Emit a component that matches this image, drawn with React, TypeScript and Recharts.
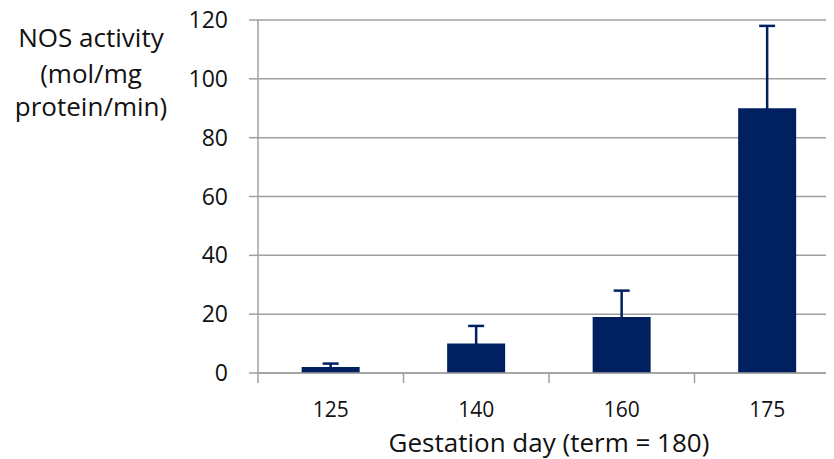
import React from "react";
import { BarChart, Bar, XAxis, YAxis, CartesianGrid, ErrorBar, Label } from "recharts";

const categories = ["125", "140", "160", "175"];
const values = [2, 10, 19, 90];
const errors = [1.2, 6, 9, 28];
const yTicks = [0, 20, 40, 60, 80, 100, 120];

const data = categories.map((c, i) => ({
  day: c,
  nos: values[i],
  err: [Math.min(1, values[i] / 2), errors[i]],
}));

const FONT = "'Open Sans', sans-serif";
const TEXT = "#111";
const AXIS = "#a0a0a0";
const NAVY = "#002060";

const XTick = (props: any) => {
  const { x, payload, index } = props;
  const bw = 145.5;
  const left = x - bw / 2;
  return (
    <g>
      <line x1={left} y1={373} x2={left} y2={383} stroke={AXIS} strokeWidth={1.5} />
      {index === categories.length - 1 ? (
        <line x1={x + bw / 2} y1={373} x2={x + bw / 2} y2={383} stroke={AXIS} strokeWidth={1.5} />
      ) : null}
      <text x={x} y={417} textAnchor="middle" fontFamily={FONT} fontSize={21} fill={TEXT}>
        {payload.value}
      </text>
    </g>
  );
};

export default function App() {
  return (
    <div style={{ marginLeft: -8, marginTop: -8, width: 834, height: 459, overflow: "hidden" }}>
      <BarChart
        width={840}
        height={459}
        data={data}
        margin={{ top: 20, right: 0, bottom: 0, left: 0 }}
        barCategoryGap="30%"
      >
        <CartesianGrid vertical={false} stroke={AXIS} strokeWidth={1.5} />
        <XAxis
          dataKey="day"
          height={86}
          axisLine={{ stroke: AXIS, strokeWidth: 1.5 }}
          tickLine={false}
          tick={<XTick />}
          interval={0}
        >
          <Label
            content={() => (
              <text x={549} y={452} textAnchor="middle" fontFamily={FONT} fontSize={26} fill={TEXT}>
                Gestation day (term = 180)
              </text>
            )}
          />
        </XAxis>
        <YAxis
          width={258}
          domain={[0, 120]}
          ticks={yTicks}
          interval={0}
          axisLine={{ stroke: AXIS, strokeWidth: 1.5 }}
          tickLine={{ stroke: AXIS, strokeWidth: 1.5 }}
          tickSize={9}
          tickMargin={21}
          tick={{ fontFamily: FONT, fontSize: 23, fill: TEXT }}
        >
          <Label
            content={() => (
              <text textAnchor="middle" fontFamily={FONT} fontSize={26} fill={TEXT}>
                <tspan x={91} y={47}>NOS activity</tspan>
                <tspan x={91} y={83}>(mol/mg</tspan>
                <tspan x={91} y={116}>protein/min)</tspan>
              </text>
            )}
          />
        </YAxis>
        <Bar dataKey="nos" fill={NAVY} isAnimationActive={false}>
          <ErrorBar dataKey="err" direction="y" width={8} stroke={NAVY} strokeWidth={2.5} />
        </Bar>
      </BarChart>
    </div>
  );
}
